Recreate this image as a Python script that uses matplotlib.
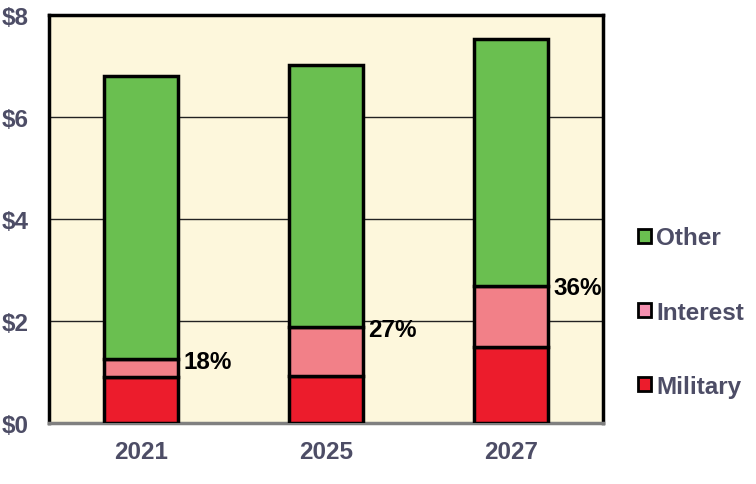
import matplotlib
matplotlib.use("Agg")
import matplotlib.pyplot as plt
from matplotlib.patches import Patch
import numpy as np

years = ["2021", "2025", "2027"]
military = [0.90, 0.92, 1.49]
interest = [0.35, 0.96, 1.20]
other = [5.55, 5.14, 4.84]
pct_labels = ["18%", "27%", "36%"]
yticks = [0, 2, 4, 6, 8]
ytick_labels = ["$0", "$2", "$4", "$6", "$8"]

c_mil = "#EC1C2C"
c_int = "#F28088"
c_oth = "#6ABF50"
bg = "#FDF7DC"
txt = "#4D4D66"
FS = 17.5

plt.rcParams["font.family"] = ["Liberation Sans", "DejaVu Sans"]
fig = plt.figure(figsize=(7.56, 4.85), dpi=100)
ax = fig.add_axes([49/756, 61/485, 554/756, 408/485])
ax.set_facecolor(bg)

x = np.arange(len(years))
w = 0.4
mil = np.array(military)
itr = np.array(interest)
oth = np.array(other)
ax.bar(x, mil, w, color=c_mil, edgecolor="black", linewidth=2.5, zorder=3)
ax.bar(x, itr, w, bottom=mil, color=c_int, edgecolor="black", linewidth=2.5, zorder=3)
ax.bar(x, oth, w, bottom=mil + itr, color=c_oth, edgecolor="black", linewidth=2.5, zorder=3)

for xi, top, lab in zip(x, mil + itr, pct_labels):
    ax.text(xi + w/2 + 0.03, top - 0.04, lab, ha="left", va="center", fontsize=FS,
            fontweight="bold", color="black", zorder=4)

ax.set_xlim(-0.5, 2.5)
ax.set_ylim(0, 8)
ax.set_yticks(yticks)
ax.set_yticklabels(ytick_labels)
ax.set_xticks(x)
ax.set_xticklabels(years)
ax.yaxis.grid(True, color="#222222", linewidth=1.0, zorder=0)
ax.set_axisbelow(True)
ax.tick_params(axis="both", length=0, labelsize=FS, colors=txt)
ax.tick_params(axis="y", pad=15)
ax.tick_params(axis="x", pad=12)
for lab in ax.get_xticklabels() + ax.get_yticklabels():
    lab.set_fontweight("bold")
for s in ["top", "left", "right"]:
    ax.spines[s].set_linewidth(2.5)
    ax.spines[s].set_color("black")
ax.spines["bottom"].set_linewidth(2.5)
ax.spines["bottom"].set_color("#808080")

handles = [Patch(facecolor=c_oth, edgecolor="black", linewidth=2),
           Patch(facecolor="#F590B0", edgecolor="black", linewidth=2),
           Patch(facecolor=c_mil, edgecolor="black", linewidth=2)]
leg = fig.legend(handles, ["Other", "Interest", "Military"], loc="center left",
                 bbox_to_anchor=(638/756, 1 - 313/485), frameon=False,
                 borderaxespad=0, borderpad=0,
                 fontsize=FS, labelspacing=2.1, handlelength=0.55, handleheight=0.55,
                 handletextpad=0.2)
for t in leg.get_texts():
    t.set_color(txt)
    t.set_fontweight("bold")

fig.savefig("out.png", dpi=100)
